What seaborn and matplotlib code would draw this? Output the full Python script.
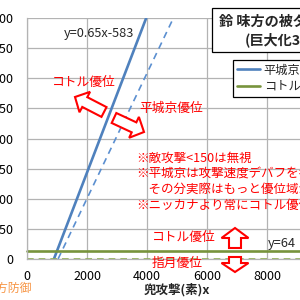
import matplotlib
matplotlib.use("Agg")
import matplotlib.pyplot as plt
import matplotlib.patches as mpatches
import seaborn as sns

# line end points (x = 兜攻撃, y = 被ダメ)
heijo_x = [897, 4100]
heijo_y = [0, 2082]
heijo_debuff_x = [1035, 4900]
heijo_debuff_y = [0, 2010]
kotoru_x = [0, 10000]
kotoru_y = [64, 64]
shigetsu_x = [0, 10000]
shigetsu_y = [0, 0]

x_ticks = [0, 2000, 4000, 6000, 8000, 10000]
y_ticks = [0, 250, 500, 750, 1000, 1250, 1500, 1750, 2000]

title_lines = ["鈴 味方の被ダメージ", "(巨大化3段階)"]
legend_labels = ["平城京", "コトル=指月"]
notes = ["※敵攻撃<150は無視",
         "※平城京は攻撃速度デバフを考慮せず",
         "　その分実際はもっと優位域が広い",
         "※ニッカナより常にコトル優位"]

sns.set_style("white")
plt.rcParams["font.family"] = ["Noto Sans CJK JP", "DejaVu Sans"]

BLUE = "#4F81BD"
GREEN = "#77933C"
RED = "#FF0000"
GRID = "#B3B3B3"

fig = plt.figure(figsize=(3, 3), dpi=100)
ax = fig.add_axes([27 / 300, 1 - 259 / 300, 1.0, 241 / 300])


def px(x, y):
    return x / 300, 1 - y / 300


sns.lineplot(x=heijo_x, y=heijo_y, ax=ax, color=BLUE, linewidth=1.9, label=legend_labels[0])
sns.lineplot(x=heijo_debuff_x, y=heijo_debuff_y, ax=ax, color="#5B8FD0", linewidth=1.2,
             linestyle=(0, (4, 3)))
sns.lineplot(x=kotoru_x, y=kotoru_y, ax=ax, color=GREEN, linewidth=1.9,
             label=legend_labels[1], clip_on=False)
sns.lineplot(x=shigetsu_x, y=shigetsu_y, ax=ax, color="#8EB04E", linewidth=1.2,
             linestyle=(0, (4, 3)), clip_on=False)

ax.set_xlim(0, 10000)
ax.set_ylim(0, 2000)
ax.set_xticks(x_ticks)
ax.set_yticks(y_ticks)
ax.grid(True, color=GRID, linewidth=0.9)
for s in ["top", "right"]:
    ax.spines[s].set_visible(False)
for s in ["left", "bottom"]:
    ax.spines[s].set_color(GRID)
    ax.spines[s].set_linewidth(0.9)
ax.tick_params(axis="both", which="major", direction="out", length=3.6, width=0.9,
               color=GRID, labelsize=9, labelcolor="black")
ax.tick_params(axis="y", pad=6)
ax.tick_params(axis="x", pad=4)

ax.set_xlabel("兜攻撃(素)x", fontsize=9, fontweight="bold")
ax.xaxis.set_label_coords(0.5, -31 / 241)
ax.xaxis.label.set_verticalalignment("center")

# legend box
handles, labels = ax.get_legend_handles_labels()
ax.legend(handles, labels, loc="upper left", bbox_to_anchor=px(233, 60),
          bbox_transform=fig.transFigure, borderaxespad=0, fontsize=8.8,
          frameon=True, fancybox=False, framealpha=1, edgecolor="black",
          handlelength=1.9, handletextpad=0.3, labelspacing=0.3, borderpad=0.3)
ax.get_legend().get_frame().set_linewidth(0.9)

# title box
rect = mpatches.Rectangle(px(212, 52), 120 / 300, 44 / 300, transform=fig.transFigure,
                          facecolor="white", edgecolor="black", linewidth=0.9, zorder=5)
fig.add_artist(rect)
fig.text(*px(219, 22), title_lines[0], fontsize=10.2, fontweight="bold", va="center", zorder=6)
fig.text(*px(245, 40), title_lines[1], fontsize=10.2, fontweight="bold", va="center", zorder=6)

# annotations
fig.text(*px(64, 33), "y=0.65x-583", fontsize=9.2, va="center")
fig.text(*px(268, 243), "y=64", fontsize=9.2, va="center")
fig.text(*px(52, 82), "コトル優位", fontsize=9.2, color=RED, va="center")
fig.text(*px(139, 108), "平城京優位", fontsize=9.2, color=RED, va="center")
fig.text(*px(152, 237), "コトル優位", fontsize=9.2, color=RED, va="center")
fig.text(*px(152, 263), "指月優位", fontsize=9.2, color=RED, va="center")
fig.text(*px(32, 288), "味方防御", fontsize=8.6, color="#F79646", va="center", ha="right")

for line, y in zip(notes, [158, 173, 189, 205]):
    fig.text(*px(136, y), line, fontsize=9.0, color=RED, va="center")


def block_arrow(tail, tip, shaft, head, head_len):
    x0, y0 = px(*tail)
    x1, y1 = px(*tip)
    arr = mpatches.FancyArrow(x0, y0, x1 - x0, y1 - y0, width=shaft / 300,
                              head_width=head / 300, head_length=head_len / 300,
                              length_includes_head=True, transform=fig.transFigure,
                              facecolor="white", edgecolor=RED, linewidth=1.5, zorder=4)
    fig.add_artist(arr)


block_arrow((104, 112), (75, 97), 11, 23, 11)
block_arrow((114, 118), (144, 132), 11, 23, 11)
block_arrow((235, 248), (235, 228), 12, 27, 10)
block_arrow((235, 257), (235, 272), 12, 27, 9)

fig.savefig("out.png", dpi=100)
